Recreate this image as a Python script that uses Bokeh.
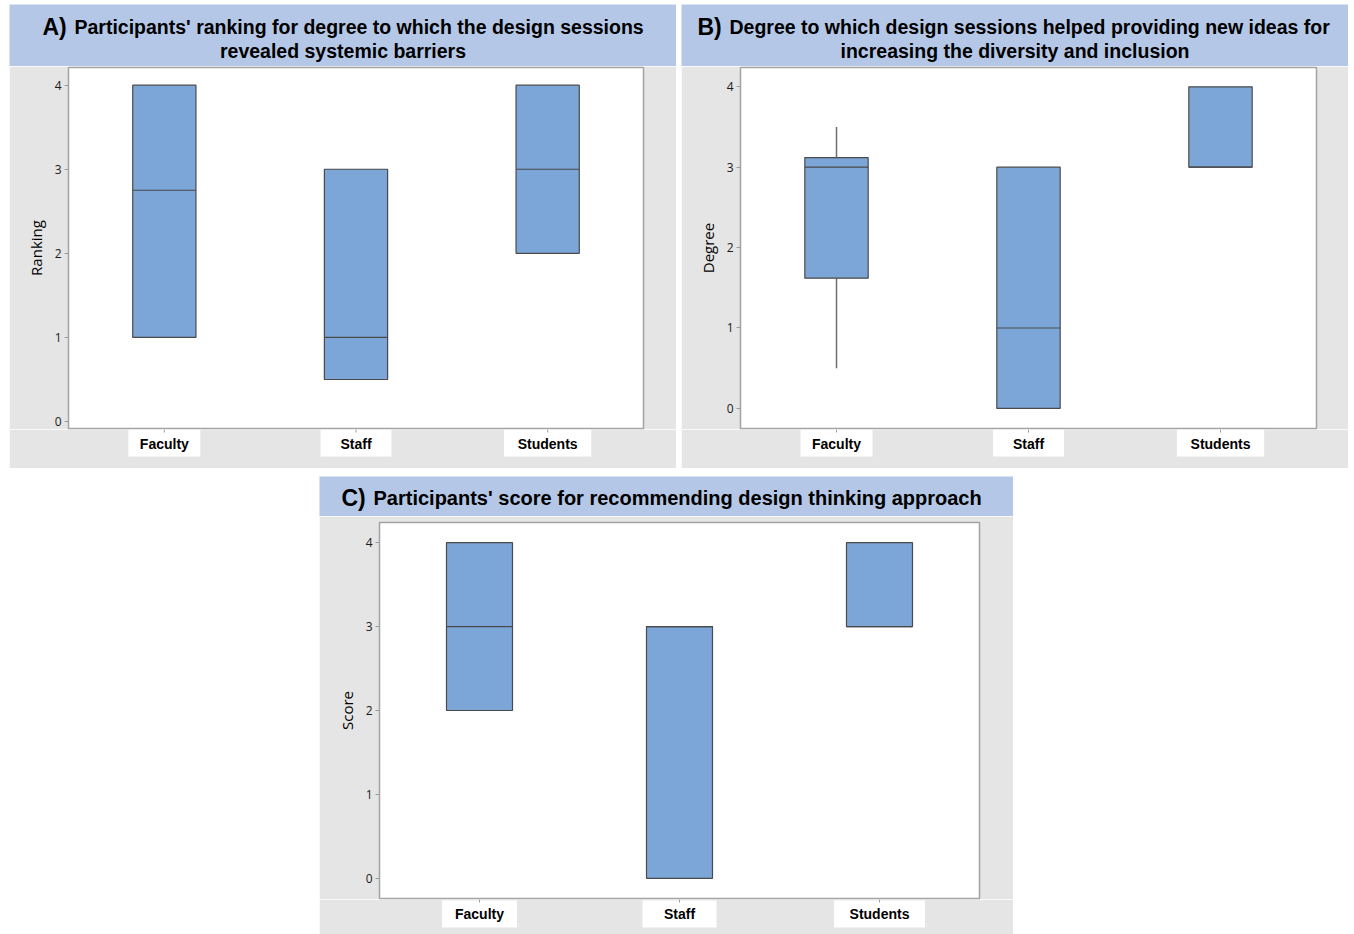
from bokeh.plotting import figure
from bokeh.models import Range1d, ColumnDataSource, Spacer
from bokeh.layouts import column, row
from bokeh.transform import dodge
from bokeh.core.properties import value
from bokeh.embed import file_html
from bokeh.resources import INLINE

# ---------------- data ----------------
categories = ["Faculty", "Staff", "Students"]
y_ticks = [0, 1, 2, 3, 4]

# A) ranking for degree to which sessions revealed systemic barriers
a_q1 = [1.0, 0.5, 2.0]
a_median = [2.75, 1.0, 3.0]
a_q3 = [4.0, 3.0, 4.0]
a_low = [1.0, 0.5, 2.0]
a_high = [4.0, 3.0, 4.0]

# B) degree to which sessions helped providing new ideas
b_q1 = [1.62, 0.0, 3.0]
b_median = [3.0, 1.0, 3.0]
b_q3 = [3.12, 3.0, 4.0]
b_low = [0.5, 0.0, 3.0]
b_high = [3.5, 3.0, 4.0]

# C) score for recommending design thinking approach
c_q1 = [2.0, 0.0, 3.0]
c_median = [3.0, 3.0, 3.0]
c_q3 = [4.0, 3.0, 4.0]
c_low = [2.0, 0.0, 3.0]
c_high = [4.0, 3.0, 4.0]

# ---------------- styles ----------------
PANEL_BG = "#e5e5e5"
TITLE_BG = "#b4c7e7"
BOX_FILL = "#7ca6d8"
BOX_EDGE = "#4a4a4a"
WHISKER = "#6e6e6e"
FRAME = "#a3a3a3"
TFONT = "Liberation Sans"
AFONT = "Open Sans"
LABEL_BOX_W = [0.375, 0.37, 0.455]   # white boxes behind the category labels


def make_panel(letter, line1, line2, ylabel, q1, med, q3, lo, hi,
               W, title_h, gap_top, frame_h, strip_h, left_b, right_b,
               y_start, y_end, letter_x, line1_x, base1, base2,
               title_size, letter_size, box_top, label_base):
    # ---- title bar ----
    t = figure(width=W, height=title_h, x_range=Range1d(0, W),
               y_range=Range1d(title_h, 0), toolbar_location=None,
               output_backend="svg", min_border=0, x_axis_type=None,
               y_axis_type=None, title=None,
               background_fill_color=TITLE_BG, border_fill_color=TITLE_BG,
               outline_line_color=None)
    try:
        t.frame_align = False
    except Exception:
        pass
    t.text(x=[letter_x], y=[base1], text=[letter], text_font=value(TFONT),
           text_font_style="bold", text_font_size=f"{letter_size}px",
           text_baseline="alphabetic", text_align="left", text_color="#000000")
    t.text(x=[line1_x], y=[base1], text=[line1], text_font=value(TFONT),
           text_font_style="bold", text_font_size=f"{title_size}px",
           text_baseline="alphabetic", text_align="left", text_color="#000000")
    if line2:
        t.text(x=[W / 2], y=[base2], text=[line2], text_font=value(TFONT),
               text_font_style="bold", text_font_size=f"{title_size}px",
               text_baseline="alphabetic", text_align="center",
               text_color="#000000")

    # ---- plot area ----
    H = gap_top + frame_h + 1
    p = figure(width=W, height=H, x_range=categories,
               y_range=Range1d(y_start, y_end), toolbar_location=None,
               output_backend="svg", title=None, x_axis_location=None,
               min_border_left=left_b, min_border_right=right_b,
               min_border_top=gap_top, min_border_bottom=1,
               background_fill_color="white", border_fill_color=PANEL_BG,
               outline_line_color=FRAME, outline_line_width=1.5)
    p.xgrid.visible = False
    p.ygrid.visible = False

    ya = p.yaxis[0]
    ya.ticker = y_ticks
    ya.axis_label = ylabel
    ya.axis_label_text_font = AFONT
    ya.axis_label_text_font_size = "15px"
    ya.axis_label_text_font_style = "normal"
    ya.axis_label_text_color = "#000000"
    ya.axis_label_standoff = 6
    ya.major_label_text_font = AFONT
    ya.major_label_text_font_size = "12px"
    ya.major_label_text_color = "#1a1a1a"
    ya.major_label_standoff = 3
    ya.axis_line_color = None
    ya.major_tick_out = 4
    ya.major_tick_in = 0
    ya.minor_tick_out = 0
    ya.minor_tick_in = 0
    ya.major_tick_line_color = "#9a9a9a"

    src = ColumnDataSource(dict(cat=categories, q1=q1, med=med, q3=q3,
                                lo=lo, hi=hi))
    p.segment(x0="cat", y0="q3", x1="cat", y1="hi", source=src,
              line_color=WHISKER, line_width=1.5)
    p.segment(x0="cat", y0="lo", x1="cat", y1="q1", source=src,
              line_color=WHISKER, line_width=1.5)
    p.vbar(x="cat", bottom="q1", top="q3", width=0.33, source=src,
           fill_color=BOX_FILL, line_color=BOX_EDGE, line_width=1.2)
    p.segment(x0=dodge("cat", -0.165, range=p.x_range), y0="med",
              x1=dodge("cat", 0.165, range=p.x_range), y1="med", source=src,
              line_color=BOX_EDGE, line_width=1.2)

    # ---- category label strip (shares the x scale) ----
    s = figure(width=W, height=strip_h, x_range=p.x_range,
               y_range=Range1d(strip_h, 0), toolbar_location=None,
               output_backend="svg", title=None, x_axis_type=None,
               y_axis_type=None, min_border_left=left_b,
               min_border_right=right_b, min_border_top=0,
               min_border_bottom=0, background_fill_color=PANEL_BG,
               border_fill_color=PANEL_BG, outline_line_color=PANEL_BG,
               outline_line_width=2)
    lsrc = ColumnDataSource(dict(cat=categories, w=LABEL_BOX_W))
    s.rect(x="cat", y=box_top + 13.5, width="w", height=27, source=lsrc,
           fill_color="white", line_color=None)
    s.segment(x0="cat", y0=0, x1="cat", y1=3, source=lsrc,
              line_color="#9a9a9a", line_width=1)
    s.text(x="cat", y=label_base, text="cat", source=lsrc,
           text_font=value(TFONT), text_font_style="bold",
           text_font_size="14px", text_align="center",
           text_baseline="alphabetic", text_color="#000000")
    return column(t, p, s, spacing=0)


panel_a = make_panel(
    "A)", "Participants' ranking for degree to which the design sessions",
    "revealed systemic barriers", "Ranking",
    a_q1, a_median, a_q3, a_low, a_high,
    W=667, title_h=62, gap_top=1, frame_h=361, strip_h=39,
    left_b=59, right_b=33, y_start=-0.083, y_end=4.21,
    letter_x=33, line1_x=65, base1=22, base2=46,
    title_size=19.5, letter_size=23, box_top=0, label_base=14)

panel_b = make_panel(
    "B)", "Degree to which design sessions helped providing new ideas for",
    "increasing the diversity and inclusion", "Degree",
    b_q1, b_median, b_q3, b_low, b_high,
    W=667, title_h=62, gap_top=1, frame_h=361, strip_h=39,
    left_b=59, right_b=32, y_start=-0.25, y_end=4.24,
    letter_x=16, line1_x=48, base1=22, base2=46,
    title_size=19.5, letter_size=23, box_top=0, label_base=14)

panel_c = make_panel(
    "C)", "Participants' score for recommending design thinking approach",
    None, "Score",
    c_q1, c_median, c_q3, c_low, c_high,
    W=694, title_h=40, gap_top=6, frame_h=376, strip_h=35,
    left_b=60, right_b=34, y_start=-0.24, y_end=4.24,
    letter_x=22, line1_x=54, base1=21, base2=0,
    title_size=20, letter_size=23, box_top=1, label_base=14.5)

top = row(Spacer(width=9, height=464), panel_a, Spacer(width=5, height=464),
          panel_b, spacing=0)
bottom = row(Spacer(width=319, height=458), panel_c, spacing=0)
layout = column(Spacer(width=10, height=4), top, Spacer(width=10, height=8),
                bottom, spacing=0)

open("out.html", "w").write(file_html(layout, INLINE))
